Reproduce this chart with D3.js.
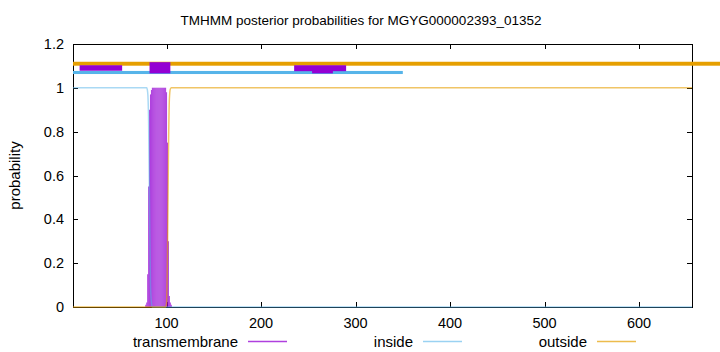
<!DOCTYPE html>
<html><head><meta charset="utf-8">
<script src="https://cdn.jsdelivr.net/npm/d3@7"></script>
<style>
html,body{margin:0;padding:0;background:#fff;}
text{font-family:"Liberation Sans",Arial,sans-serif;fill:#000;}
</style></head>
<body><svg id="chart" width="720" height="352"></svg>
<script>
// ---- data ----
const titleText = "TMHMM posterior probabilities for MGYG000002393_01352";
const seqStart = 1, seqEnd = 656;
const xTicks = [100, 200, 300, 400, 500, 600];
const yTicks = [0, 0.2, 0.4, 0.6, 0.8, 1, 1.2];
const yTickLabels = ["0", "0.2", "0.4", "0.6", "0.8", "1", "1.2"];
const seriesNames = ["transmembrane", "inside", "outside"];

// inside / outside posterior curves as [residue, probability]
const insidePoints = [[1,1],[79,1],[80,0.98],[81,0.85],[82,0.45],[83,0.1],[84,0.02],[85,0],[656,0]];
const outsidePoints = [[1,0],[99,0],[100,0.02],[101,0.25],[102,0.7],[103,0.95],[104,0.995],[105,1],[656,1]];

// transmembrane posterior, residues 78..105
const tmFirstResidue = 78;
const tmValues = [0.01,0.02,0.15,0.55,0.9,0.97,0.99,1,1,1,1,1,1,1,1,1,1,1,1,1,1,1,0.98,0.75,0.3,0.05,0.02,0.01];

// predicted topology tracks: [start, end, low, high]
const outsideTrack = [1, 700, 1.101, 1.119];
const insideTrack = [1, 350, 1.063, 1.077];
const tmBoxes = [
  [8, 53, 1.078, 1.103],
  [82, 104, 1.066, 1.117],
  [235, 290, 1.076, 1.103],
  [254, 276, 1.066, 1.08]
];

// ---- layout ----
const W = 720, H = 352;
const L = 73, R = 692, T = 44, B = 307;
const colTM = "#9400D3", colIn = "#56B4E9", colOut = "#E69F00";

const svg = d3.select("#chart");
const x = d3.scaleLinear().domain([seqStart, seqEnd]).range([L, R]);
const y = d3.scaleLinear().domain([0, 1.2]).range([B, T]);

// title
svg.append("text").attr("x", W/2+1).attr("y", 25).attr("text-anchor","middle")
  .attr("font-size", 13.5).text(titleText);
// y label
svg.append("text").attr("transform", `translate(20,${(T+B)/2}) rotate(-90)`)
  .attr("text-anchor","middle").attr("font-size", 15).text("probability");

// border
svg.append("rect").attr("x", L+0.5).attr("y", T+0.5).attr("width", R-L).attr("height", B-T)
  .attr("fill","none").attr("stroke","#000").attr("stroke-width",1);

// ticks (inward, mirrored)
const tk = 5;
yTicks.forEach((v,i)=>{
  const yy = Math.round(y(v))+0.5;
  svg.append("line").attr("x1",L).attr("x2",L+tk).attr("y1",yy).attr("y2",yy).attr("stroke","#000");
  svg.append("line").attr("x1",R).attr("x2",R-tk).attr("y1",yy).attr("y2",yy).attr("stroke","#000");
  svg.append("text").attr("x", 64).attr("y", y(v)+5).attr("text-anchor","end")
    .attr("font-size",14.5).text(yTickLabels[i]);
});
xTicks.forEach(v=>{
  const xx = Math.round(x(v))+0.5;
  svg.append("line").attr("x1",xx).attr("x2",xx).attr("y1",B).attr("y2",B-tk).attr("stroke","#000");
  svg.append("line").attr("x1",xx).attr("x2",xx).attr("y1",T).attr("y2",T+tk).attr("stroke","#000");
  svg.append("text").attr("x", x(v)).attr("y", 328).attr("text-anchor","middle")
    .attr("font-size",14.5).text(v);
});

// transmembrane impulses
const tmData = tmValues.map((v,i)=>[tmFirstResidue+i, v]);
svg.append("g").selectAll("line").data(tmData).join("line")
  .attr("x1", d=>x(d[0])).attr("x2", d=>x(d[0]))
  .attr("y1", y(0)).attr("y2", d=>y(d[1]))
  .attr("stroke", colTM).attr("stroke-opacity", 0.72).attr("stroke-width", 1.05);

// curves
const line = d3.line().x(d=>x(d[0])).y(d=>y(d[1])).curve(d3.curveMonotoneX);
svg.append("path").attr("d", line(insidePoints)).attr("fill","none")
  .attr("stroke", colIn).attr("stroke-opacity",0.5).attr("stroke-width",1.5);
svg.append("path").attr("d", line(outsidePoints)).attr("fill","none")
  .attr("stroke", colOut).attr("stroke-opacity",0.6).attr("stroke-width",1.5);

// topology tracks
svg.append("rect").attr("x", x(outsideTrack[0])).attr("width", x(outsideTrack[1])-x(outsideTrack[0]))
  .attr("y", y(outsideTrack[3])).attr("height", y(outsideTrack[2])-y(outsideTrack[3])).attr("fill", colOut);
svg.append("rect").attr("x", x(insideTrack[0])).attr("width", x(insideTrack[1])-x(insideTrack[0]))
  .attr("y", y(insideTrack[3])).attr("height", y(insideTrack[2])-y(insideTrack[3])).attr("fill", colIn);
svg.append("g").selectAll("rect").data(tmBoxes).join("rect")
  .attr("x", d=>x(d[0])).attr("width", d=>x(d[1])-x(d[0]))
  .attr("y", d=>y(d[3])).attr("height", d=>y(d[2])-y(d[3])).attr("fill", colTM);

// legend
const legendItems = [
  {name: seriesNames[0], textEnd: 238, color: colTM, op: 0.75},
  {name: seriesNames[1], textEnd: 413, color: colIn, op: 0.6},
  {name: seriesNames[2], textEnd: 587, color: colOut, op: 0.7}
];
legendItems.forEach(it=>{
  svg.append("text").attr("x", it.textEnd).attr("y", 346.5).attr("text-anchor","end")
    .attr("font-size",15).text(it.name);
  svg.append("line").attr("x1", it.textEnd+10).attr("x2", it.textEnd+49)
    .attr("y1", 341.5).attr("y2", 341.5).attr("stroke", it.color)
    .attr("stroke-opacity", it.op).attr("stroke-width", 1.5);
});
</script></body></html>
